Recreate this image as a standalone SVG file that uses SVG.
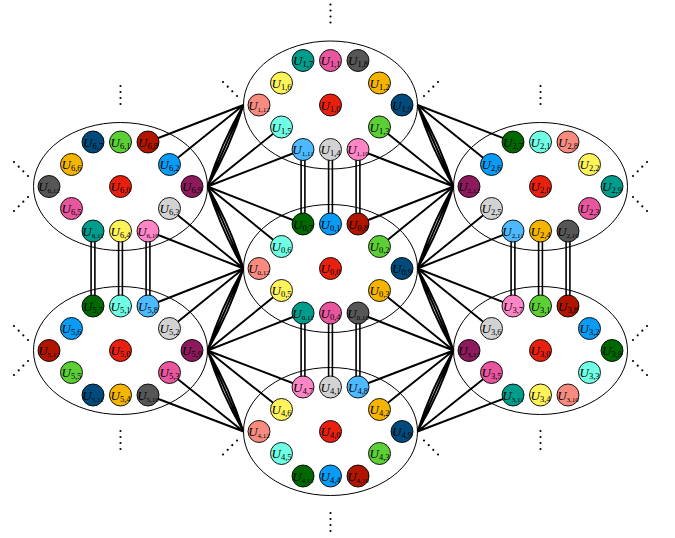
<svg xmlns="http://www.w3.org/2000/svg" width="675" height="538" viewBox="0 0 675 538">
<style>
.bg{fill:#fff}
.ell{fill:none;stroke:#000;stroke-width:1}
.node circle{stroke:#000;stroke-width:0.9}
.node text{font-family:"Liberation Serif",serif;font-size:13px;font-style:italic;text-anchor:middle;fill:#000}
.node text .s{font-style:normal;font-size:8.5px}
.node text .t{font-style:normal;font-size:7px}
.red{fill:#E82010}.blue{fill:#0A9BF5}.green{fill:#5CCF36}.gold{fill:#F5B400}.pink{fill:#E8569E}.yellow{fill:#FFF35C}
.aqua{fill:#70FFE4}.dkgreen{fill:#006800}.dkred{fill:#B01500}.dkblue{fill:#004A7C}.dkgray{fill:#565656}.teal{fill:#009C8C}
.salmon{fill:#F88B80}.ltgray{fill:#D2D2D2}.ltpink{fill:#FF86C6}.ltblue{fill:#4DBAFF}.purple{fill:#8C1A5C}
.conn path{fill:none;stroke:#000;stroke-width:1.9}
.dbl .o{stroke:#000;stroke-width:5.4;fill:none}
.dbl .i{stroke:#fff;stroke-width:2.2;fill:none}
.dots circle{fill:#000}
</style>
<rect class="bg" x="0" y="0" width="675" height="538"/>
<g id="connectors" class="conn">
<path d="M243.5,105 L148,142 M243.5,105 L169.5,164.5 M207.5,186.5 L281.5,127 M207.5,186.5 L303,149.5"/>
<path d="M207.5,186.5 L243.5,105 M207.5,186.5 Q230.1,147.8 243.5,105 M207.5,186.5 Q220.9,143.7 243.5,105"/>
<path d="M207.5,186.5 L281.5,246.5 M207.5,186.5 L303,224 M243.5,268.5 L169.5,208.5 M243.5,268.5 L148,231"/>
<path d="M207.5,186.5 L243.5,268.5 M207.5,186.5 Q230.1,225.5 243.5,268.5 M207.5,186.5 Q220.9,229.5 243.5,268.5"/>
<path d="M243.5,268.5 L148,306 M243.5,268.5 L169.5,328.5 M207.5,350.5 L281.5,290.5 M207.5,350.5 L303,313"/>
<path d="M207.5,350.5 L243.5,268.5 M207.5,350.5 Q230.1,311.5 243.5,268.5 M207.5,350.5 Q220.9,307.5 243.5,268.5"/>
<path d="M243.5,431.5 L169.5,372.5 M243.5,431.5 L148,395 M207.5,350.5 L281.5,409.5 M207.5,350.5 L303,387"/>
<path d="M207.5,350.5 L243.5,431.5 M207.5,350.5 Q230.1,389 243.5,431.5 M207.5,350.5 Q220.9,393 243.5,431.5"/>
<path d="M417.5,105 L513,142 M417.5,105 L491.5,164.5 M453.5,186.5 L379.5,127 M453.5,186.5 L358,149.5"/>
<path d="M417.5,105 L453.5,186.5 M417.5,105 Q440.1,143.7 453.5,186.5 M417.5,105 Q430.9,147.8 453.5,186.5"/>
<path d="M453.5,186.5 L358,224 M453.5,186.5 L379.5,246.5 M417.5,268.5 L491.5,208.5 M417.5,268.5 L513,231"/>
<path d="M417.5,268.5 L453.5,186.5 M417.5,268.5 Q440.1,229.5 453.5,186.5 M417.5,268.5 Q430.9,225.5 453.5,186.5"/>
<path d="M417.5,268.5 L513,306 M417.5,268.5 L491.5,328.5 M453.5,350.5 L379.5,290.5 M453.5,350.5 L358,313"/>
<path d="M417.5,268.5 L453.5,350.5 M417.5,268.5 Q440.1,307.5 453.5,350.5 M417.5,268.5 Q430.9,311.5 453.5,350.5"/>
<path d="M453.5,350.5 L358,387 M453.5,350.5 L379.5,409.5 M417.5,431.5 L491.5,372.5 M417.5,431.5 L513,395"/>
<path d="M417.5,431.5 L453.5,350.5 M417.5,431.5 Q440.1,393 453.5,350.5 M417.5,431.5 Q430.9,389 453.5,350.5"/>
<g class="dbl">
<path class="o" d="M303,149.5 V224 M330.5,149.5 V224 M358,149.5 V224 M303,313 V387 M330.5,313 V387 M358,313 V387 M93,231 V306 M120.5,231 V306 M148,231 V306 M513,231 V306 M540.5,231 V306 M568,231 V306"/>
<path class="i" d="M303,149.5 V224 M330.5,149.5 V224 M358,149.5 V224 M303,313 V387 M330.5,313 V387 M358,313 V387 M93,231 V306 M120.5,231 V306 M148,231 V306 M513,231 V306 M540.5,231 V306 M568,231 V306"/>
</g>
</g>
<g id="clusters">
<ellipse id="E0" class="ell" cx="330.5" cy="268.5" rx="87" ry="64"/>
<ellipse id="E1" class="ell" cx="330.5" cy="105" rx="87" ry="64"/>
<ellipse id="E2" class="ell" cx="540.5" cy="186.5" rx="87" ry="64"/>
<ellipse id="E3" class="ell" cx="540.5" cy="350.5" rx="87" ry="64"/>
<ellipse id="E4" class="ell" cx="330.5" cy="431.5" rx="87" ry="64"/>
<ellipse id="E5" class="ell" cx="120.5" cy="350.5" rx="87" ry="64"/>
<ellipse id="E6" class="ell" cx="120.5" cy="186.5" rx="87" ry="64"/>
</g>
<g id="cluster0" transform="translate(330.5,268.5)">
<g id="U0_7" class="node"><circle class="dkgreen" cx="-27.5" cy="-44.5" r="11"/><text x="-27.5" y="-40">U<tspan class="s" dy="2">0,7</tspan></text></g>
<g id="U0_1" class="node"><circle class="blue" cx="0" cy="-44.5" r="11"/><text x="0" y="-40">U<tspan class="s" dy="2">0,1</tspan></text></g>
<g id="U0_8" class="node"><circle class="dkred" cx="27.5" cy="-44.5" r="11"/><text x="27.5" y="-40">U<tspan class="s" dy="2">0,8</tspan></text></g>
<g id="U0_6" class="node"><circle class="aqua" cx="-49" cy="-22" r="11"/><text x="-49" y="-17.5">U<tspan class="s" dy="2">0,6</tspan></text></g>
<g id="U0_2" class="node"><circle class="green" cx="49" cy="-22" r="11"/><text x="49" y="-17.5">U<tspan class="s" dy="2">0,2</tspan></text></g>
<g id="U0_12" class="node"><circle class="salmon" cx="-71.5" cy="0" r="11"/><text x="-71.5" y="4.5">U<tspan class="t" dy="2">0,12</tspan></text></g>
<g id="U0_0" class="node"><circle class="red" cx="0" cy="0" r="11"/><text x="0" y="4.5">U<tspan class="s" dy="2">0,0</tspan></text></g>
<g id="U0_9" class="node"><circle class="dkblue" cx="71.5" cy="0" r="11"/><text x="71.5" y="4.5">U<tspan class="s" dy="2">0,9</tspan></text></g>
<g id="U0_5" class="node"><circle class="yellow" cx="-49" cy="22" r="11"/><text x="-49" y="26.5">U<tspan class="s" dy="2">0,5</tspan></text></g>
<g id="U0_3" class="node"><circle class="gold" cx="49" cy="22" r="11"/><text x="49" y="26.5">U<tspan class="s" dy="2">0,3</tspan></text></g>
<g id="U0_11" class="node"><circle class="teal" cx="-27.5" cy="44.5" r="11"/><text x="-27.5" y="49">U<tspan class="t" dy="2">0,11</tspan></text></g>
<g id="U0_4" class="node"><circle class="pink" cx="0" cy="44.5" r="11"/><text x="0" y="49">U<tspan class="s" dy="2">0,4</tspan></text></g>
<g id="U0_10" class="node"><circle class="dkgray" cx="27.5" cy="44.5" r="11"/><text x="27.5" y="49">U<tspan class="t" dy="2">0,10</tspan></text></g>
</g>
<g id="cluster1" transform="translate(330.5,105)">
<g id="U1_7" class="node"><circle class="teal" cx="-27.5" cy="-44.5" r="11"/><text x="-27.5" y="-40">U<tspan class="s" dy="2">1,7</tspan></text></g>
<g id="U1_1" class="node"><circle class="pink" cx="0" cy="-44.5" r="11"/><text x="0" y="-40">U<tspan class="s" dy="2">1,1</tspan></text></g>
<g id="U1_8" class="node"><circle class="dkgray" cx="27.5" cy="-44.5" r="11"/><text x="27.5" y="-40">U<tspan class="s" dy="2">1,8</tspan></text></g>
<g id="U1_6" class="node"><circle class="yellow" cx="-49" cy="-22" r="11"/><text x="-49" y="-17.5">U<tspan class="s" dy="2">1,6</tspan></text></g>
<g id="U1_2" class="node"><circle class="gold" cx="49" cy="-22" r="11"/><text x="49" y="-17.5">U<tspan class="s" dy="2">1,2</tspan></text></g>
<g id="U1_12" class="node"><circle class="salmon" cx="-71.5" cy="0" r="11"/><text x="-71.5" y="4.5">U<tspan class="t" dy="2">1,12</tspan></text></g>
<g id="U1_0" class="node"><circle class="red" cx="0" cy="0" r="11"/><text x="0" y="4.5">U<tspan class="s" dy="2">1,0</tspan></text></g>
<g id="U1_9" class="node"><circle class="dkblue" cx="71.5" cy="0" r="11"/><text x="71.5" y="4.5">U<tspan class="s" dy="2">1,9</tspan></text></g>
<g id="U1_5" class="node"><circle class="aqua" cx="-49" cy="22" r="11"/><text x="-49" y="26.5">U<tspan class="s" dy="2">1,5</tspan></text></g>
<g id="U1_3" class="node"><circle class="green" cx="49" cy="22" r="11"/><text x="49" y="26.5">U<tspan class="s" dy="2">1,3</tspan></text></g>
<g id="U1_11" class="node"><circle class="ltblue" cx="-27.5" cy="44.5" r="11"/><text x="-27.5" y="49">U<tspan class="t" dy="2">1,11</tspan></text></g>
<g id="U1_4" class="node"><circle class="ltgray" cx="0" cy="44.5" r="11"/><text x="0" y="49">U<tspan class="s" dy="2">1,4</tspan></text></g>
<g id="U1_10" class="node"><circle class="ltpink" cx="27.5" cy="44.5" r="11"/><text x="27.5" y="49">U<tspan class="t" dy="2">1,10</tspan></text></g>
</g>
<g id="cluster2" transform="translate(540.5,186.5)">
<g id="U2_7" class="node"><circle class="dkgreen" cx="-27.5" cy="-44.5" r="11"/><text x="-27.5" y="-40">U<tspan class="s" dy="2">2,7</tspan></text></g>
<g id="U2_1" class="node"><circle class="aqua" cx="0" cy="-44.5" r="11"/><text x="0" y="-40">U<tspan class="s" dy="2">2,1</tspan></text></g>
<g id="U2_8" class="node"><circle class="salmon" cx="27.5" cy="-44.5" r="11"/><text x="27.5" y="-40">U<tspan class="s" dy="2">2,8</tspan></text></g>
<g id="U2_6" class="node"><circle class="blue" cx="-49" cy="-22" r="11"/><text x="-49" y="-17.5">U<tspan class="s" dy="2">2,6</tspan></text></g>
<g id="U2_2" class="node"><circle class="yellow" cx="49" cy="-22" r="11"/><text x="49" y="-17.5">U<tspan class="s" dy="2">2,2</tspan></text></g>
<g id="U2_12" class="node"><circle class="purple" cx="-71.5" cy="0" r="11"/><text x="-71.5" y="4.5">U<tspan class="t" dy="2">2,12</tspan></text></g>
<g id="U2_0" class="node"><circle class="red" cx="0" cy="0" r="11"/><text x="0" y="4.5">U<tspan class="s" dy="2">2,0</tspan></text></g>
<g id="U2_9" class="node"><circle class="teal" cx="71.5" cy="0" r="11"/><text x="71.5" y="4.5">U<tspan class="s" dy="2">2,9</tspan></text></g>
<g id="U2_5" class="node"><circle class="ltgray" cx="-49" cy="22" r="11"/><text x="-49" y="26.5">U<tspan class="s" dy="2">2,5</tspan></text></g>
<g id="U2_3" class="node"><circle class="pink" cx="49" cy="22" r="11"/><text x="49" y="26.5">U<tspan class="s" dy="2">2,3</tspan></text></g>
<g id="U2_11" class="node"><circle class="ltblue" cx="-27.5" cy="44.5" r="11"/><text x="-27.5" y="49">U<tspan class="t" dy="2">2,11</tspan></text></g>
<g id="U2_4" class="node"><circle class="gold" cx="0" cy="44.5" r="11"/><text x="0" y="49">U<tspan class="s" dy="2">2,4</tspan></text></g>
<g id="U2_10" class="node"><circle class="dkgray" cx="27.5" cy="44.5" r="11"/><text x="27.5" y="49">U<tspan class="t" dy="2">2,10</tspan></text></g>
</g>
<g id="cluster3" transform="translate(540.5,350.5)">
<g id="U3_7" class="node"><circle class="ltpink" cx="-27.5" cy="-44.5" r="11"/><text x="-27.5" y="-40">U<tspan class="s" dy="2">3,7</tspan></text></g>
<g id="U3_1" class="node"><circle class="green" cx="0" cy="-44.5" r="11"/><text x="0" y="-40">U<tspan class="s" dy="2">3,1</tspan></text></g>
<g id="U3_8" class="node"><circle class="dkred" cx="27.5" cy="-44.5" r="11"/><text x="27.5" y="-40">U<tspan class="s" dy="2">3,8</tspan></text></g>
<g id="U3_6" class="node"><circle class="ltgray" cx="-49" cy="-22" r="11"/><text x="-49" y="-17.5">U<tspan class="s" dy="2">3,6</tspan></text></g>
<g id="U3_2" class="node"><circle class="blue" cx="49" cy="-22" r="11"/><text x="49" y="-17.5">U<tspan class="s" dy="2">3,2</tspan></text></g>
<g id="U3_12" class="node"><circle class="purple" cx="-71.5" cy="0" r="11"/><text x="-71.5" y="4.5">U<tspan class="t" dy="2">3,12</tspan></text></g>
<g id="U3_0" class="node"><circle class="red" cx="0" cy="0" r="11"/><text x="0" y="4.5">U<tspan class="s" dy="2">3,0</tspan></text></g>
<g id="U3_9" class="node"><circle class="dkgreen" cx="71.5" cy="0" r="11"/><text x="71.5" y="4.5">U<tspan class="s" dy="2">3,9</tspan></text></g>
<g id="U3_5" class="node"><circle class="pink" cx="-49" cy="22" r="11"/><text x="-49" y="26.5">U<tspan class="s" dy="2">3,5</tspan></text></g>
<g id="U3_3" class="node"><circle class="aqua" cx="49" cy="22" r="11"/><text x="49" y="26.5">U<tspan class="s" dy="2">3,3</tspan></text></g>
<g id="U3_11" class="node"><circle class="teal" cx="-27.5" cy="44.5" r="11"/><text x="-27.5" y="49">U<tspan class="t" dy="2">3,11</tspan></text></g>
<g id="U3_4" class="node"><circle class="yellow" cx="0" cy="44.5" r="11"/><text x="0" y="49">U<tspan class="s" dy="2">3,4</tspan></text></g>
<g id="U3_10" class="node"><circle class="salmon" cx="27.5" cy="44.5" r="11"/><text x="27.5" y="49">U<tspan class="t" dy="2">3,10</tspan></text></g>
</g>
<g id="cluster4" transform="translate(330.5,431.5)">
<g id="U4_7" class="node"><circle class="ltpink" cx="-27.5" cy="-44.5" r="11"/><text x="-27.5" y="-40">U<tspan class="s" dy="2">4,7</tspan></text></g>
<g id="U4_1" class="node"><circle class="ltgray" cx="0" cy="-44.5" r="11"/><text x="0" y="-40">U<tspan class="s" dy="2">4,1</tspan></text></g>
<g id="U4_8" class="node"><circle class="ltblue" cx="27.5" cy="-44.5" r="11"/><text x="27.5" y="-40">U<tspan class="s" dy="2">4,8</tspan></text></g>
<g id="U4_6" class="node"><circle class="yellow" cx="-49" cy="-22" r="11"/><text x="-49" y="-17.5">U<tspan class="s" dy="2">4,6</tspan></text></g>
<g id="U4_2" class="node"><circle class="gold" cx="49" cy="-22" r="11"/><text x="49" y="-17.5">U<tspan class="s" dy="2">4,2</tspan></text></g>
<g id="U4_12" class="node"><circle class="salmon" cx="-71.5" cy="0" r="11"/><text x="-71.5" y="4.5">U<tspan class="t" dy="2">4,12</tspan></text></g>
<g id="U4_0" class="node"><circle class="red" cx="0" cy="0" r="11"/><text x="0" y="4.5">U<tspan class="s" dy="2">4,0</tspan></text></g>
<g id="U4_9" class="node"><circle class="dkblue" cx="71.5" cy="0" r="11"/><text x="71.5" y="4.5">U<tspan class="s" dy="2">4,9</tspan></text></g>
<g id="U4_5" class="node"><circle class="aqua" cx="-49" cy="22" r="11"/><text x="-49" y="26.5">U<tspan class="s" dy="2">4,5</tspan></text></g>
<g id="U4_3" class="node"><circle class="green" cx="49" cy="22" r="11"/><text x="49" y="26.5">U<tspan class="s" dy="2">4,3</tspan></text></g>
<g id="U4_11" class="node"><circle class="dkgreen" cx="-27.5" cy="44.5" r="11"/><text x="-27.5" y="49">U<tspan class="t" dy="2">4,11</tspan></text></g>
<g id="U4_4" class="node"><circle class="blue" cx="0" cy="44.5" r="11"/><text x="0" y="49">U<tspan class="s" dy="2">4,4</tspan></text></g>
<g id="U4_10" class="node"><circle class="dkred" cx="27.5" cy="44.5" r="11"/><text x="27.5" y="49">U<tspan class="t" dy="2">4,10</tspan></text></g>
</g>
<g id="cluster5" transform="translate(120.5,350.5)">
<g id="U5_7" class="node"><circle class="dkgreen" cx="-27.5" cy="-44.5" r="11"/><text x="-27.5" y="-40">U<tspan class="s" dy="2">5,7</tspan></text></g>
<g id="U5_1" class="node"><circle class="aqua" cx="0" cy="-44.5" r="11"/><text x="0" y="-40">U<tspan class="s" dy="2">5,1</tspan></text></g>
<g id="U5_8" class="node"><circle class="ltblue" cx="27.5" cy="-44.5" r="11"/><text x="27.5" y="-40">U<tspan class="s" dy="2">5,8</tspan></text></g>
<g id="U5_6" class="node"><circle class="blue" cx="-49" cy="-22" r="11"/><text x="-49" y="-17.5">U<tspan class="s" dy="2">5,6</tspan></text></g>
<g id="U5_2" class="node"><circle class="ltgray" cx="49" cy="-22" r="11"/><text x="49" y="-17.5">U<tspan class="s" dy="2">5,2</tspan></text></g>
<g id="U5_12" class="node"><circle class="dkred" cx="-71.5" cy="0" r="11"/><text x="-71.5" y="4.5">U<tspan class="t" dy="2">5,12</tspan></text></g>
<g id="U5_0" class="node"><circle class="red" cx="0" cy="0" r="11"/><text x="0" y="4.5">U<tspan class="s" dy="2">5,0</tspan></text></g>
<g id="U5_9" class="node"><circle class="purple" cx="71.5" cy="0" r="11"/><text x="71.5" y="4.5">U<tspan class="s" dy="2">5,9</tspan></text></g>
<g id="U5_5" class="node"><circle class="green" cx="-49" cy="22" r="11"/><text x="-49" y="26.5">U<tspan class="s" dy="2">5,5</tspan></text></g>
<g id="U5_3" class="node"><circle class="pink" cx="49" cy="22" r="11"/><text x="49" y="26.5">U<tspan class="s" dy="2">5,3</tspan></text></g>
<g id="U5_11" class="node"><circle class="dkblue" cx="-27.5" cy="44.5" r="11"/><text x="-27.5" y="49">U<tspan class="t" dy="2">5,11</tspan></text></g>
<g id="U5_4" class="node"><circle class="gold" cx="0" cy="44.5" r="11"/><text x="0" y="49">U<tspan class="s" dy="2">5,4</tspan></text></g>
<g id="U5_10" class="node"><circle class="dkgray" cx="27.5" cy="44.5" r="11"/><text x="27.5" y="49">U<tspan class="t" dy="2">5,10</tspan></text></g>
</g>
<g id="cluster6" transform="translate(120.5,186.5)">
<g id="U6_7" class="node"><circle class="dkblue" cx="-27.5" cy="-44.5" r="11"/><text x="-27.5" y="-40">U<tspan class="s" dy="2">6,7</tspan></text></g>
<g id="U6_1" class="node"><circle class="green" cx="0" cy="-44.5" r="11"/><text x="0" y="-40">U<tspan class="s" dy="2">6,1</tspan></text></g>
<g id="U6_8" class="node"><circle class="dkred" cx="27.5" cy="-44.5" r="11"/><text x="27.5" y="-40">U<tspan class="s" dy="2">6,8</tspan></text></g>
<g id="U6_6" class="node"><circle class="gold" cx="-49" cy="-22" r="11"/><text x="-49" y="-17.5">U<tspan class="s" dy="2">6,6</tspan></text></g>
<g id="U6_2" class="node"><circle class="blue" cx="49" cy="-22" r="11"/><text x="49" y="-17.5">U<tspan class="s" dy="2">6,2</tspan></text></g>
<g id="U6_12" class="node"><circle class="dkgray" cx="-71.5" cy="0" r="11"/><text x="-71.5" y="4.5">U<tspan class="t" dy="2">6,12</tspan></text></g>
<g id="U6_0" class="node"><circle class="red" cx="0" cy="0" r="11"/><text x="0" y="4.5">U<tspan class="s" dy="2">6,0</tspan></text></g>
<g id="U6_9" class="node"><circle class="purple" cx="71.5" cy="0" r="11"/><text x="71.5" y="4.5">U<tspan class="s" dy="2">6,9</tspan></text></g>
<g id="U6_5" class="node"><circle class="pink" cx="-49" cy="22" r="11"/><text x="-49" y="26.5">U<tspan class="s" dy="2">6,5</tspan></text></g>
<g id="U6_3" class="node"><circle class="ltgray" cx="49" cy="22" r="11"/><text x="49" y="26.5">U<tspan class="s" dy="2">6,3</tspan></text></g>
<g id="U6_11" class="node"><circle class="teal" cx="-27.5" cy="44.5" r="11"/><text x="-27.5" y="49">U<tspan class="t" dy="2">6,11</tspan></text></g>
<g id="U6_4" class="node"><circle class="yellow" cx="0" cy="44.5" r="11"/><text x="0" y="49">U<tspan class="s" dy="2">6,4</tspan></text></g>
<g id="U6_10" class="node"><circle class="ltpink" cx="27.5" cy="44.5" r="11"/><text x="27.5" y="49">U<tspan class="t" dy="2">6,10</tspan></text></g>
</g>
<g id="dots" class="dots">
<circle cx="330.5" cy="4.5" r="1.1"/><circle cx="330.5" cy="10.5" r="1.1"/><circle cx="330.5" cy="16.5" r="1.1"/><circle cx="330.5" cy="22.5" r="1.1"/>
<circle cx="330.5" cy="513" r="1.1"/><circle cx="330.5" cy="519" r="1.1"/><circle cx="330.5" cy="525" r="1.1"/><circle cx="330.5" cy="531" r="1.1"/>
<circle cx="120.5" cy="86" r="1.1"/><circle cx="120.5" cy="92" r="1.1"/><circle cx="120.5" cy="98" r="1.1"/><circle cx="120.5" cy="104" r="1.1"/>
<circle cx="540.5" cy="86" r="1.1"/><circle cx="540.5" cy="92" r="1.1"/><circle cx="540.5" cy="98" r="1.1"/><circle cx="540.5" cy="104" r="1.1"/>
<circle cx="120.5" cy="431" r="1.1"/><circle cx="120.5" cy="437" r="1.1"/><circle cx="120.5" cy="443" r="1.1"/><circle cx="120.5" cy="449" r="1.1"/>
<circle cx="540.5" cy="431" r="1.1"/><circle cx="540.5" cy="437" r="1.1"/><circle cx="540.5" cy="443" r="1.1"/><circle cx="540.5" cy="449" r="1.1"/>
<circle cx="237" cy="96" r="1.1"/><circle cx="232.3" cy="91.3" r="1.1"/><circle cx="227.7" cy="86.7" r="1.1"/><circle cx="223" cy="82" r="1.1"/>
<circle cx="424" cy="96" r="1.1"/><circle cx="428.7" cy="91.3" r="1.1"/><circle cx="433.3" cy="86.7" r="1.1"/><circle cx="438" cy="82" r="1.1"/>
<circle cx="237" cy="440.5" r="1.1"/><circle cx="232.3" cy="445.2" r="1.1"/><circle cx="227.7" cy="449.8" r="1.1"/><circle cx="223" cy="454.5" r="1.1"/>
<circle cx="424" cy="440.5" r="1.1"/><circle cx="428.7" cy="445.2" r="1.1"/><circle cx="433.3" cy="449.8" r="1.1"/><circle cx="438" cy="454.5" r="1.1"/>
<circle cx="28" cy="176" r="1.1"/><circle cx="23.3" cy="171.3" r="1.1"/><circle cx="18.7" cy="166.7" r="1.1"/><circle cx="14" cy="162" r="1.1"/>
<circle cx="28" cy="197" r="1.1"/><circle cx="23.3" cy="201.7" r="1.1"/><circle cx="18.7" cy="206.3" r="1.1"/><circle cx="14" cy="211" r="1.1"/>
<circle cx="28" cy="340" r="1.1"/><circle cx="23.3" cy="335.3" r="1.1"/><circle cx="18.7" cy="330.7" r="1.1"/><circle cx="14" cy="326" r="1.1"/>
<circle cx="28" cy="361" r="1.1"/><circle cx="23.3" cy="365.7" r="1.1"/><circle cx="18.7" cy="370.3" r="1.1"/><circle cx="14" cy="375" r="1.1"/>
<circle cx="633" cy="176" r="1.1"/><circle cx="637.7" cy="171.3" r="1.1"/><circle cx="642.3" cy="166.7" r="1.1"/><circle cx="647" cy="162" r="1.1"/>
<circle cx="633" cy="197" r="1.1"/><circle cx="637.7" cy="201.7" r="1.1"/><circle cx="642.3" cy="206.3" r="1.1"/><circle cx="647" cy="211" r="1.1"/>
<circle cx="633" cy="340" r="1.1"/><circle cx="637.7" cy="335.3" r="1.1"/><circle cx="642.3" cy="330.7" r="1.1"/><circle cx="647" cy="326" r="1.1"/>
<circle cx="633" cy="361" r="1.1"/><circle cx="637.7" cy="365.7" r="1.1"/><circle cx="642.3" cy="370.3" r="1.1"/><circle cx="647" cy="375" r="1.1"/>
</g>
</svg>
